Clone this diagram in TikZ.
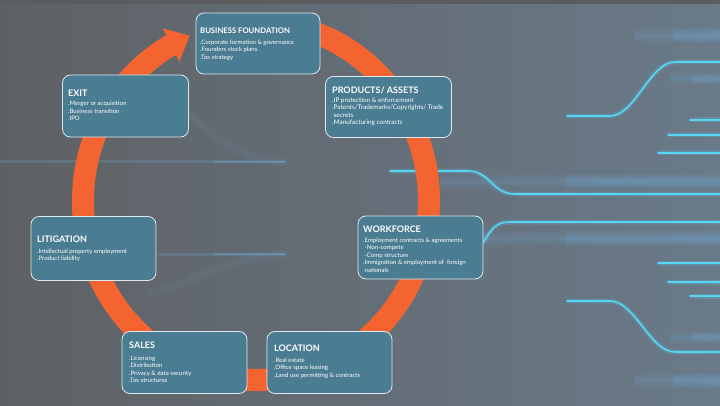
\documentclass[tikz,border=0pt]{standalone}
\usepackage{fontspec}
\setmainfont{Lato}
\usetikzlibrary{arrows.meta,bending,fadings}
\definecolor{bgL}{HTML}{5E6164}
\definecolor{bgM}{HTML}{646A70}
\definecolor{bgR}{HTML}{6A7A89}
\definecolor{bgTop}{HTML}{5A5C5F}
\definecolor{boxfill}{HTML}{4A7C92}
\definecolor{boxline}{HTML}{DCE8EE}
\definecolor{ringc}{HTML}{F46430}
\definecolor{cyanl}{HTML}{58D6F6}
\definecolor{glowc}{HTML}{72AEDA}
\tikzfading[name=bandfade, top color=transparent!100, bottom color=transparent!100, middle color=transparent!0]
\newcommand\cardtext[7]{%
  \node[ttl, font=\fontsize{#5}{10}\selectfont\bfseries] (#1t) at (#2,405-#3) {#4};
  \foreach \txt [count=\k] in {#7}
    \node[itm] (#1-\k) at ([yshift={-#6-7.5*(\k-1)}]#1t.base west) {\txt};
}
\newcommand\hazeband[4]{% x1, x2, y (screen centre), half height
  \fill[glowc, opacity=0.22, path fading=bandfade] (#1,405-#3-#4) rectangle (#2,405-#3+#4);
  \fill[glowc, opacity=0.25, path fading=bandfade] ({#1+(#2-#1)*0.45},405-#3-#4) rectangle (#2,405-#3+#4);
}
\begin{document}
\begin{tikzpicture}[x=1pt,y=1pt,
  card/.style={draw=boxline, line width=0.8pt, fill=boxfill, rounded corners=8pt, inner sep=0pt},
  ttl/.style={anchor=base west, inner sep=0pt, text=white},
  itm/.style={anchor=base west, inner sep=0pt, text=white, font=\fontsize{6.05}{7}\selectfont},
  wire/.style={cyanl, line width=1.6pt, line cap=round, preaction={draw=cyanl, line width=5pt, opacity=0.2}},
  faint/.style={glowc, line width=3pt, opacity=0.22, line cap=round},
]
\useasboundingbox (0,0) rectangle (720,405);
% background
\shade[left color=bgL, middle color=bgM, right color=bgR] (0,0) rectangle (720,405);
\fill[bgTop] (0,401) rectangle (720,405);
% haze bands
\hazeband{440}{720}{181}{9}
\hazeband{440}{720}{238}{9}
\hazeband{635}{720}{35}{9}
\hazeband{670}{720}{78}{7}
\hazeband{670}{720}{337}{7}
\hazeband{635}{720}{380}{9}
% faint left glows
\draw[faint] (0,243) -- (285,243);
\draw[faint, line width=2pt, opacity=0.35] (215,243) -- (285,243);
\draw[faint] (158,151) -- (285,151);
\draw[faint, line width=2pt, opacity=0.35] (215,151) -- (285,151);
\draw[faint, line width=8pt, opacity=0.08] (190,290) .. controls (225,260) and (240,246) .. (285,243);
\draw[faint, line width=8pt, opacity=0.08] (150,112) .. controls (200,125) and (230,148) .. (285,151);
% wires
\draw[wire] (567,289) -- (610,289) .. controls (635,289) and (650,343) .. (675,343) -- (720,343);
\draw[wire] (690,285) -- (720,285);
\draw[wire] (668,270) -- (720,270);
\draw[wire] (658,252) -- (720,252);
\draw[wire] (390,234) -- (468,234) .. controls (490,234) and (492,211) .. (515,211) -- (720,211);
\draw[wire] (483,162) .. controls (495,183) and (500,183) .. (515,183) -- (720,183);
\draw[wire] (658,142) -- (720,142);
\draw[wire] (668,123) -- (720,123);
\draw[wire] (690,109) -- (720,109);
\draw[wire] (567,104) -- (610,104) .. controls (635,104) and (650,53) .. (675,53) -- (720,53);
% ring
\coordinate (rc) at (256,204);
\draw[ringc, line width=22pt, -{Triangle[length=21pt,width=36pt]}]
  ([shift={(80:173pt and 179pt)}]rc) arc[start angle=80, end angle=-247.5, x radius=173pt, y radius=179pt];
% cards
\node[card, minimum width=124pt, minimum height=61pt] (bf) at (258,405-43.5) {};
\node[card, minimum width=126pt, minimum height=61pt] (pa) at (388.5,405-107) {};
\node[card, minimum width=125pt, minimum height=63pt] (wf) at (420.5,405-247.5) {};
\node[card, minimum width=125pt, minimum height=62pt] (lo) at (329.5,405-362.5) {};
\node[card, minimum width=125pt, minimum height=62pt] (sa) at (184.5,405-362.5) {};
\node[card, minimum width=125pt, minimum height=64pt] (li) at (93.5,405-248.5) {};
\node[card, minimum width=126pt, minimum height=62pt] (ex) at (125.5,405-106) {};
% texts
\cardtext{bf}{200}{34}{BUSINESS FOUNDATION}{7.7}{10.5}{{.Corporate formation \& governance},{.Founders stock plans},{.Tax strategy}}
\cardtext{pa}{332}{94}{PRODUCTS/ ASSETS}{9}{8.5}{{\fontsize{6.4}{7}\selectfont .IP protection \& enforcement},{\fontsize{6.4}{7}\selectfont .Patents/Trademarks/Copyrights/ Trade},{\fontsize{6.4}{7}\selectfont\hspace{1.5pt}secrets},{\fontsize{6.4}{7}\selectfont .Manufacturing contracts}}
\cardtext{wf}{363}{232}{WORKFORCE}{9}{10}{{.Employment contracts \& agreements},{\hspace{1.5pt}-Non-compete},{\hspace{1.5pt}-Comp structure},{.Immigration \& employment of\ \ foreign},{\hspace{1.5pt}nationals}}
\cardtext{lo}{274}{351}{LOCATION}{9}{11}{{.Real estate},{.Office space leasing},{.Land use permitting \& contracts}}
\cardtext{sa}{129}{348}{SALES}{9}{12}{{.Licensing},{.Distribution},{.Privacy \& data security},{.Tax structures}}
\cardtext{li}{37}{242}{LITIGATION}{9}{11}{{.Intellectual property employment},{.Product liability}}
\cardtext{ex}{68}{97}{EXIT}{9}{9}{{.Merger or acquisition},{.Business transition},{.IPO}}
\end{tikzpicture}
\end{document}
